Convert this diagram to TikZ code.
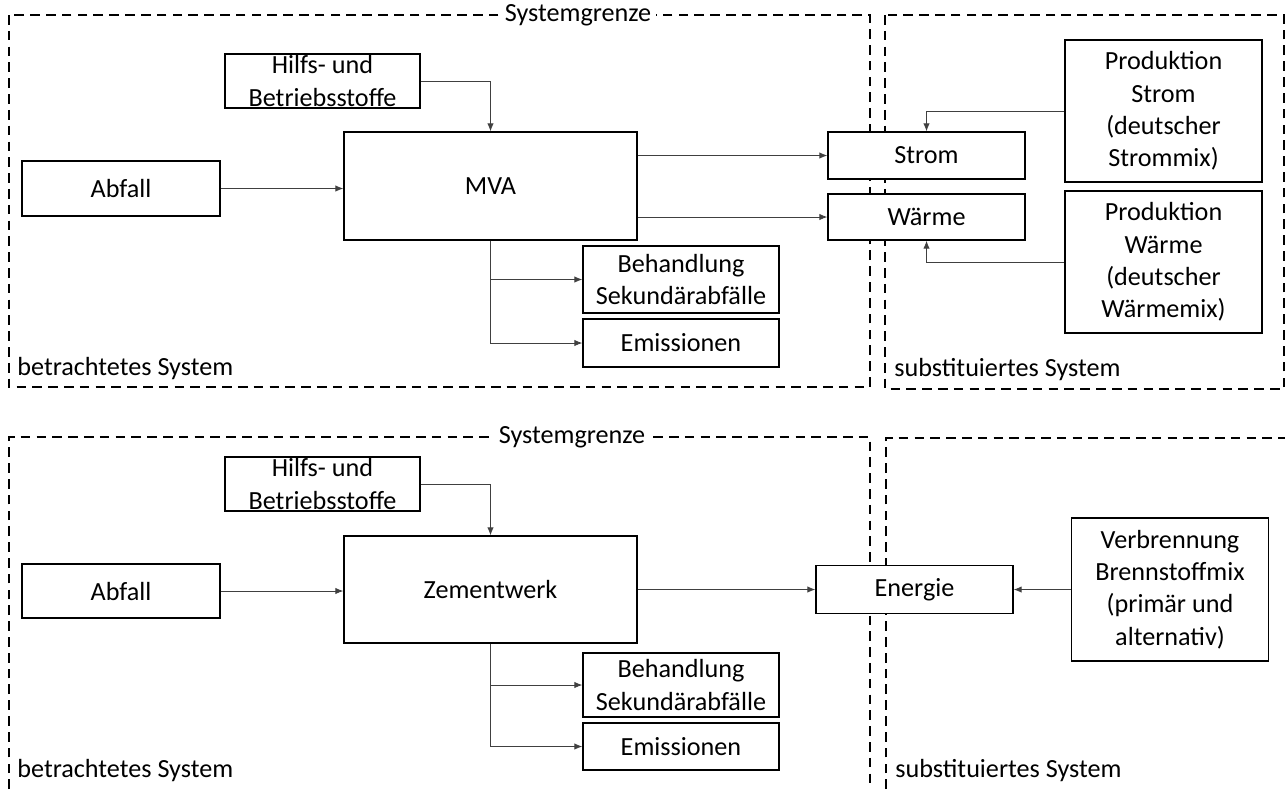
\documentclass[tikz,border=0pt]{standalone}
\usepackage{fontspec}
\setmainfont{Carlito}
\usetikzlibrary{arrows.meta}
\tikzset{
  blk/.style={draw,fill=white,align=center,inner sep=0pt,line width=0.8pt},
  sysline/.style={line width=1.1pt,dash pattern=on 5.5pt off 3.5pt},
  con/.style={line width=0.5pt,draw=black!75,-{Latex[length=4.5pt,width=3.6pt]}},
  lbl/.style={inner sep=0pt,anchor=west}
}
\begin{document}
\begin{tikzpicture}[x=0.02cm,y=-0.02cm,font=\fontsize{14.9}{18.4}\selectfont]
\useasboundingbox(0,0)rectangle(1285,789);
% Systemgrenzen oben
\draw[sysline](9,15)rectangle(870,387);
\draw[sysline](885,15)rectangle(1284,389);
\node[fill=white,inner sep=3pt](sg1)at(578,15){Systemgrenze};
\node[lbl](bs1)at(17,369){betrachtetes System};
\node[lbl](ss1)at(894,370){substituiertes System};
% Systemgrenzen unten
\draw[sysline](9,789)--(9,437)--(870,437)--(870,789);
\draw[sysline](886,789)--(886,438)--(1285,438);
\node[fill=white,inner sep=3pt](sg2)at(572,437){Systemgrenze};
\node[lbl](bs2)at(17,771){betrachtetes System};
\node[lbl](ss2)at(895,771){substituiertes System};
% MVA
\node[blk,minimum width=3.9cm,minimum height=1.08cm](hb1)at(322.5,81){Hilfs- und\\Betriebsstoffe};
\node[blk,minimum width=5.86cm,minimum height=2.16cm](mva)at(490.5,186){MVA};
\node[blk,minimum width=3.96cm,minimum height=1.1cm](ab1)at(121,188.5){Abfall};
\node[blk,minimum width=3.92cm,minimum height=1.34cm](bh1)at(681,279.5){Behandlung\\Sekundärabfälle};
\node[blk,minimum width=3.92cm,minimum height=0.96cm](em1)at(681,343){Emissionen};
\node[blk,minimum width=3.94cm,minimum height=0.94cm](st)at(926.5,155.5){Strom};
\node[blk,minimum width=3.94cm,minimum height=0.92cm](wa)at(926.5,217){Wärme};
\node[blk,minimum width=3.94cm,minimum height=2.84cm](ps)at(1163.5,111){Produktion\\Strom\\(deutscher\\Strommix)};
\node[blk,minimum width=3.94cm,minimum height=2.84cm](pw)at(1163.5,262){Produktion\\Wärme\\(deutscher\\Wärmemix)};
\draw[con](hb1.east)-|(mva.north);
\draw[con](ab1.east)--(ab1.east-|mva.west);
\draw[con](mva.south)|-(bh1.west);
\draw[con](mva.south)|-(em1.west);
\draw[con](st.west-|mva.east)--(st.west);
\draw[con](wa.west-|mva.east)--(wa.west);
\draw[con](ps.west)-|(st.north);
\draw[con](pw.west)-|(wa.south);
% Zementwerk
\node[blk,minimum width=3.9cm,minimum height=1.08cm](hb2)at(322.5,484){Hilfs- und\\Betriebsstoffe};
\node[blk,minimum width=5.86cm,minimum height=2.14cm](zw)at(490.5,589.5){Zementwerk};
\node[blk,minimum width=3.96cm,minimum height=1.08cm](ab2)at(121,591){Abfall};
\node[blk,minimum width=3.92cm,minimum height=1.28cm](bh2)at(681,685){Behandlung\\Sekundärabfälle};
\node[blk,minimum width=3.92cm,minimum height=0.94cm](em2)at(681,746.5){Emissionen};
\node[blk,minimum width=3.94cm,minimum height=0.96cm](en)at(914.5,589.5){Energie};
\node[blk,minimum width=3.94cm,minimum height=2.86cm](vb)at(1170,589.5){Verbrennung\\Brennstoffmix\\(primär und\\alternativ)};
\draw[con](hb2.east)-|(zw.north);
\draw[con](ab2.east)--(ab2.east-|zw.west);
\draw[con](zw.south)|-(bh2.west);
\draw[con](zw.south)|-(em2.west);
\draw[con](zw.east)--(en.west);
\draw[con](vb.west)--(en.east);
\end{tikzpicture}
\end{document}
